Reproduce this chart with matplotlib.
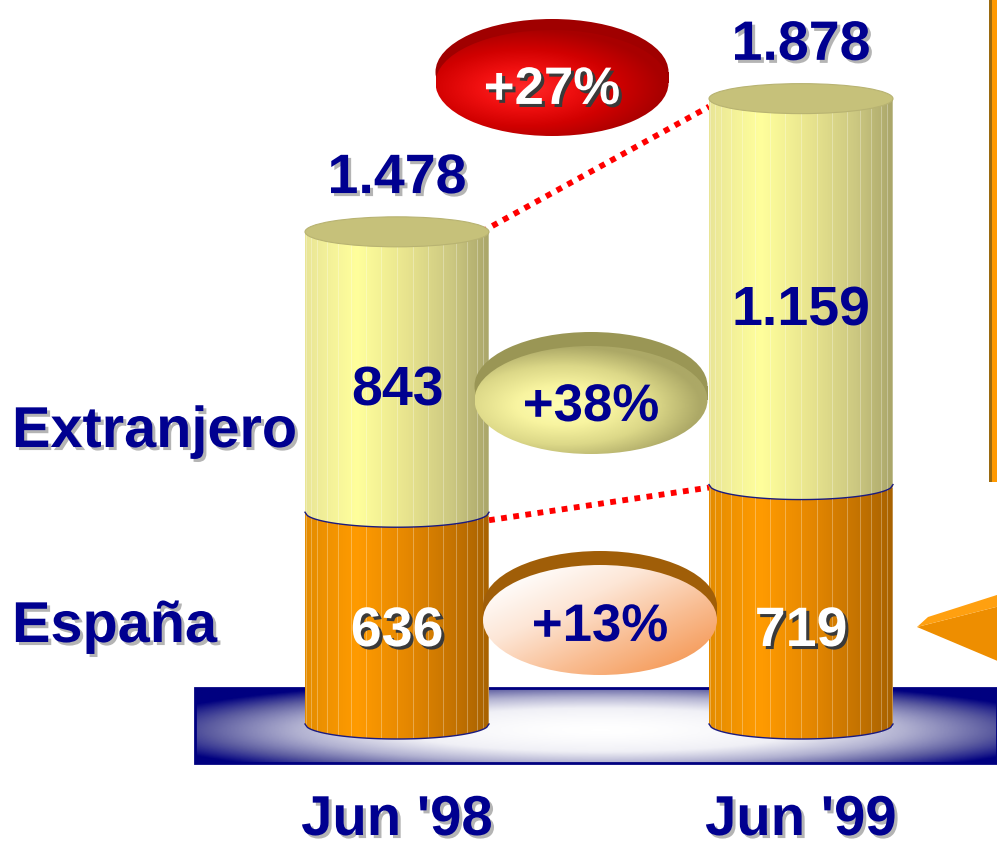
import numpy as np
import matplotlib
matplotlib.use("Agg")
import matplotlib.pyplot as plt
from matplotlib.patches import Ellipse, Rectangle, Polygon, PathPatch
from matplotlib.path import Path
from matplotlib.colors import LinearSegmentedColormap
import matplotlib.patheffects as pe

# ---------------- data ----------------
categories = ["Jun '98", "Jun '99"]
series_names = ["España", "Extranjero"]
espana = [636, 719]
extranjero = [843, 1159]
totals = [1478, 1878]
growth_total = "+27%"
growth_ext = "+38%"
growth_esp = "+13%"

# ---------------- layout helpers ----------------
W, H = 997, 847
K = 0.333          # pixels per unit of value
BASE_PX = 724      # pixel row of value 0
XS = 404           # pixels per category step
X0_PX = 397        # pixel column of first category


def dx(p):
    return (p - X0_PX) / XS


def dy(p):
    return (BASE_PX - p) / K


fig = plt.figure(figsize=(W / 100, H / 100), dpi=100)
ax = fig.add_axes([0, 0, 1, 1])
ax.set_xlim(dx(0), dx(W))
ax.set_ylim(dy(H), dy(0))
ax.axis("off")

FONT = "Liberation Sans"
NAVY = "#000090"
shadow_light = [pe.SimplePatchShadow(offset=(2.2, -2.2), shadow_rgbFace="#B4B4B4", alpha=1), pe.Normal()]
shadow_dark = [pe.SimplePatchShadow(offset=(2.2, -2.2), shadow_rgbFace="#3A3A3A", alpha=1), pe.Normal()]

# ---------------- platform ----------------
px0, px1, py0, py1 = 195, 997, 688, 763
nx, ny = 400, 60
gx = np.linspace(px0, px1, nx)
gy = np.linspace(py0, py1, ny)
GX, GY = np.meshgrid(gx, gy)
t = np.sqrt(((GX - 600) / 470) ** 2 + ((GY - 730) / 52) ** 2)
t = np.clip(t, 0, 1) ** 1.6
plat_cmap = LinearSegmentedColormap.from_list(
    "plat", [(0, "#FFFFFF"), (0.25, "#F0F0F6"), (0.5, "#B0B0D0"), (0.75, "#5C5CA0"), (1, "#000080")])
ax.imshow(t, extent=[dx(px0), dx(px1), dy(py1), dy(py0)], cmap=plat_cmap, vmin=0, vmax=1,
          aspect="auto", origin="upper", zorder=1, interpolation="bilinear")
ax.add_patch(Rectangle((dx(px0), dy(py1)), dx(px1) - dx(px0), dy(py0) - dy(py1),
                       fill=False, edgecolor="#000080", lw=2, zorder=1.1))

# ---------------- cylinders ----------------
hw = 92 / XS
eh = 15 / K
orange_cmap = LinearSegmentedColormap.from_list(
    "or", [(0, "#E48C00"), (0.28, "#FF9B00"), (0.55, "#E68800"), (0.8, "#C67400"), (1, "#A86200")])
yellow_cmap = LinearSegmentedColormap.from_list(
    "ye", [(0, "#E9E596"), (0.28, "#FFFF9C"), (0.55, "#E8E48E"), (0.8, "#CCC881"), (1, "#AAA66A")])
grad = np.linspace(0, 1, 256).reshape(1, -1)
u = np.linspace(-1, 1, 80)
facet_u = -np.cos(np.linspace(0, np.pi, 19))[1:-1]


def segment(xc, y0, y1, cmap, z):
    xs_ = xc + hw * u
    ys_ = y0 - eh * np.sqrt(1 - u ** 2)
    verts = list(zip(xs_, ys_)) + [(xc + hw, y1), (xc - hw, y1), (xs_[0], ys_[0])]
    path = Path(verts)
    patch = PathPatch(path, facecolor="none", edgecolor="none", zorder=z)
    ax.add_patch(patch)
    im = ax.imshow(grad, cmap=cmap, extent=[xc - hw, xc + hw, y0 - eh, y1], aspect="auto",
                   zorder=z, interpolation="bilinear")
    im.set_clip_path(patch)
    for fu in facet_u:
        yb = y0 - eh * np.sqrt(1 - fu ** 2)
        yt = y1 - eh * np.sqrt(1 - fu ** 2)
        ax.plot([xc + hw * fu] * 2, [yb, yt], color="white", lw=0.6, alpha=0.35, zorder=z + 0.05)
    ax.plot(xs_, ys_, color="#1A1A80", lw=1.0, zorder=z + 0.1)


for i in range(len(categories)):
    segment(i, 0, espana[i], orange_cmap, 3)
    segment(i, espana[i], totals[i], yellow_cmap, 4)
    ax.add_patch(Ellipse((i, totals[i]), 2 * hw, 2 * eh, facecolor="#C6C17A", edgecolor="#B8B372",
                         lw=0.8, zorder=4.5))

# ---------------- connectors ----------------
ax.plot([0 + hw * 0.92, 1 - hw], [totals[0], totals[1] - 8 / K], color="#FF0000", lw=4.2,
        linestyle=(0, (1, 1.1)), zorder=2.5)
ax.plot([0 + hw, 1 - hw], [espana[0] - 8 / K, espana[1] - 3 / K], color="#FF0000", lw=4.2,
        linestyle=(0, (1, 1.1)), zorder=2.5)

# ---------------- growth bubbles ----------------


def bubble(cx, cy, w, h, rim_color, face_colors, text, text_color, effects, lift=13, direction=1):
    ecx, ecy = dx(cx), dy(cy)
    ew, ehh = w / XS, h / K
    lift_d = lift / K
    ax.add_patch(Ellipse((ecx, ecy + lift_d), ew, ehh, facecolor=rim_color, edgecolor="none", zorder=5))
    ax.add_patch(Rectangle((ecx - ew / 2, ecy), ew, lift_d, facecolor=rim_color, edgecolor="none", zorder=5))
    face = Ellipse((ecx, ecy), ew, ehh, facecolor="none", edgecolor="none", zorder=5.2)
    ax.add_patch(face)
    n = 120
    X, Y = np.meshgrid(np.linspace(-1, 1, n), np.linspace(1, -1, n))
    if direction == 1:
        tt = np.clip(np.sqrt(((X + 0.25) / 1.2) ** 2 + ((Y + 0.1) / 1.1) ** 2), 0, 1)
    else:
        tt = np.clip((X - Y + 1.6) / 3.2, 0, 1)
    cm = LinearSegmentedColormap.from_list("b", face_colors)
    im = ax.imshow(tt, cmap=cm, vmin=0, vmax=1, extent=[ecx - ew / 2, ecx + ew / 2, ecy - ehh / 2, ecy + ehh / 2],
                   aspect="auto", zorder=5.2, interpolation="bilinear")
    im.set_clip_path(face)
    ax.annotate(text, (ecx, ecy), xytext=(0, -5), textcoords="offset points", ha="center", va="center",
                fontsize=38, fontweight="bold", family=FONT, color=text_color, zorder=6, path_effects=effects)


bubble(552, 83, 233, 106, "#A00000", ["#FF2A2A", "#F01010", "#D00000", "#A80000"],
       growth_total, "white", shadow_dark, lift=11)
bubble(591, 400, 233, 108, "#9A9655", ["#FFFFB4", "#F8F4A0", "#DCD888", "#ACA866"],
       growth_ext, NAVY, [pe.Normal()], lift=14)
bubble(600, 620, 234, 110, "#A05E08", ["#FFFFFF", "#FDE6D6", "#F9BE94", "#F59A58"],
       growth_esp, NAVY, [pe.Normal()], lift=14, direction=2)

# ---------------- value labels ----------------


def fmt(v):
    return f"{v:,}".replace(",", ".")


label_row = min(espana) / 2
for i in range(len(categories)):
    ax.annotate(fmt(espana[i]), (i, label_row), xytext=(0, -10), textcoords="offset points",
                ha="center", va="center", fontsize=40, fontweight="bold", family=FONT, color="white",
                zorder=7, path_effects=shadow_dark)
    ax.annotate(fmt(extranjero[i]), (i, espana[i] + extranjero[i] / 2), xytext=(0, -14),
                textcoords="offset points", ha="center", va="center", fontsize=40, fontweight="bold",
                family=FONT, color=NAVY, zorder=7)
    ax.annotate(fmt(totals[i]), (i, totals[i]), xytext=(0, 38), textcoords="offset points",
                ha="center", va="center", fontsize=40, fontweight="bold", family=FONT, color=NAVY,
                zorder=7, path_effects=shadow_light)
    ax.text(i, dy(821), categories[i], ha="center", va="center", fontsize=40.5, fontweight="bold",
            family=FONT, color=NAVY, zorder=7, path_effects=shadow_light)

# series labels
ax.text(dx(12), dy(432), series_names[1], ha="left", va="center", fontsize=41.5, fontweight="bold",
        family=FONT, color=NAVY, zorder=7, path_effects=shadow_light)
ax.text(dx(12), dy(627), series_names[0], ha="left", va="center", fontsize=41.5, fontweight="bold",
        family=FONT, color=NAVY, zorder=7, path_effects=shadow_light)

# ---------------- right-side decorations ----------------
ax.add_patch(Rectangle((dx(989), dy(482)), dx(1000) - dx(989), dy(0) - dy(482), facecolor="#FF9900",
                       edgecolor="none", zorder=2))
ax.add_patch(Rectangle((dx(989), dy(482)), dx(991.5) - dx(989), dy(0) - dy(482), facecolor="#9A6A10",
                       edgecolor="none", zorder=2.1))
ax.add_patch(Polygon([(dx(917), dy(627)), (dx(1000), dy(606)), (dx(1000), dy(662))],
                     closed=True, facecolor="#EE8E00", edgecolor="none", zorder=2))
ax.add_patch(Polygon([(dx(917), dy(627)), (dx(928), dy(617)), (dx(1000), dy(594)), (dx(1000), dy(606))],
                     closed=True, facecolor="#FFA010", edgecolor="none", zorder=2))

fig.savefig("out.png", dpi=100, facecolor="white")
